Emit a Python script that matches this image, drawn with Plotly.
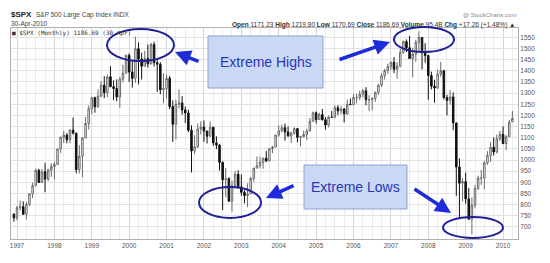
import plotly.graph_objects as go
import pandas as pd

# ---- data: S&P 500 monthly bars, Dec 1996 .. Apr 2010 ----
month_labels = pd.date_range("1996-12-01", "2010-04-01", freq="MS").strftime("%b %Y").tolist()

opens = [757.02,
 740.74, 786.16, 790.82, 757.12, 801.34, 848.28, 885.14, 954.31, 899.47, 947.28, 914.62, 955.40,
 970.43, 980.28, 1049.34, 1101.75, 1111.75, 1090.82, 1133.84, 1120.67, 957.28, 1017.01, 1098.67, 1163.63,
 1229.23, 1279.64, 1238.33, 1286.37, 1335.18, 1301.84, 1372.71, 1328.72, 1320.41, 1282.71, 1362.93, 1388.91,
 1469.25, 1394.46, 1366.42, 1498.58, 1452.43, 1420.60, 1454.60, 1430.83, 1517.68, 1436.51, 1429.40, 1314.95,
 1320.28, 1366.01, 1239.94, 1160.33, 1249.46, 1255.82, 1224.38, 1211.23, 1133.58, 1040.94, 1059.78, 1139.45,
 1148.08, 1130.20, 1106.73, 1147.39, 1076.92, 1067.14, 989.82, 911.62, 916.07, 815.28, 885.76, 936.31,
 879.82, 855.70, 841.15, 848.18, 916.92, 963.59, 974.50, 990.31, 1008.01, 995.97, 1050.71, 1058.20,
 1111.92, 1131.13, 1144.94, 1126.21, 1107.30, 1120.68, 1140.84, 1101.72, 1104.24, 1114.58, 1130.20, 1173.82,
 1211.92, 1181.27, 1203.60, 1180.59, 1156.85, 1191.50, 1191.33, 1234.18, 1220.33, 1228.81, 1207.01, 1249.48,
 1248.29, 1280.08, 1280.66, 1294.83, 1310.61, 1270.09, 1270.20, 1276.66, 1303.82, 1335.85, 1377.94, 1400.63,
 1418.30, 1438.24, 1406.82, 1420.86, 1482.37, 1530.62, 1503.35, 1455.27, 1473.99, 1526.75, 1549.38, 1481.14,
 1468.36, 1378.55, 1330.63, 1322.70, 1385.59, 1400.38, 1280.00, 1267.38, 1282.83, 1166.36, 968.75, 896.24,
 903.25, 825.88, 735.09, 797.87, 872.81, 919.14, 919.32, 987.48, 1020.62, 1057.08, 1036.19, 1095.63,
 1115.10, 1073.87, 1104.49, 1171.23]

highs = [761.75,
 794.67, 817.68, 814.90, 812.93, 851.87, 898.70, 961.04, 960.32, 960.46, 987.68, 961.26, 986.25,
 992.65, 1051.71, 1105.65, 1130.52, 1121.02, 1138.49, 1190.58, 1121.42, 1066.11, 1102.71, 1192.97, 1244.93,
 1280.37, 1283.74, 1316.55, 1352.98, 1375.98, 1383.66, 1420.33, 1357.74, 1361.35, 1373.17, 1427.02, 1473.11,
 1478.00, 1444.55, 1552.87, 1527.19, 1481.51, 1488.93, 1517.32, 1525.21, 1530.09, 1454.82, 1438.46, 1389.06,
 1383.37, 1376.38, 1267.42, 1269.30, 1315.93, 1286.62, 1239.78, 1226.27, 1155.40, 1110.61, 1163.38, 1173.62,
 1176.97, 1130.20, 1173.03, 1147.84, 1106.59, 1070.74, 993.56, 965.00, 924.02, 907.44, 951.57, 954.28,
 935.05, 864.64, 895.90, 924.24, 965.38, 1015.33, 1015.41, 1011.01, 1040.29, 1053.79, 1063.65, 1112.56,
 1155.38, 1158.98, 1163.23, 1150.57, 1127.74, 1146.34, 1140.84, 1108.60, 1131.54, 1140.35, 1188.46, 1217.33,
 1217.80, 1212.44, 1229.11, 1191.88, 1199.56, 1219.59, 1245.15, 1245.86, 1243.13, 1233.34, 1270.64, 1275.80,
 1294.90, 1297.57, 1310.88, 1318.16, 1326.70, 1290.68, 1280.42, 1306.74, 1340.28, 1389.45, 1407.89, 1431.81,
 1441.61, 1461.57, 1438.89, 1498.02, 1535.56, 1540.56, 1555.90, 1503.89, 1538.74, 1576.09, 1550.00, 1523.57,
 1471.77, 1396.02, 1359.68, 1404.57, 1440.24, 1404.05, 1292.17, 1313.15, 1303.04, 1167.03, 1007.51, 918.85,
 943.85, 875.01, 832.98, 888.70, 930.17, 956.23, 996.68, 1039.47, 1080.15, 1101.36, 1113.69, 1130.38,
 1150.45, 1112.42, 1180.16, 1219.80]

lows = [723.68,
 729.55, 773.43, 756.13, 733.54, 793.21, 829.75, 883.00, 898.56, 899.47, 855.27, 905.13, 924.92,
 912.83, 980.28, 1032.10, 1076.70, 1074.91, 1074.67, 1114.30, 939.98, 939.71, 923.32, 1098.67, 1136.89,
 1205.46, 1211.89, 1234.67, 1282.56, 1277.31, 1281.41, 1328.72, 1268.37, 1263.65, 1233.70, 1348.10, 1387.38,
 1350.14, 1325.07, 1346.62, 1339.40, 1361.09, 1420.60, 1413.89, 1428.56, 1419.44, 1305.79, 1294.90, 1254.07,
 1274.62, 1228.33, 1081.19, 1091.99, 1232.00, 1203.03, 1165.54, 1124.87, 944.75, 1026.76, 1054.31, 1114.53,
 1081.66, 1074.36, 1106.73, 1063.46, 1048.96, 952.92, 775.68, 833.44, 815.28, 768.63, 872.66, 871.85,
 840.34, 806.29, 788.90, 847.85, 902.83, 963.59, 962.10, 960.84, 990.36, 995.97, 1031.20, 1058.20,
 1105.08, 1124.44, 1087.16, 1105.42, 1076.32, 1113.32, 1078.78, 1060.72, 1101.24, 1090.19, 1127.60, 1173.76,
 1163.75, 1180.95, 1176.92, 1136.15, 1146.18, 1188.30, 1191.33, 1201.07, 1205.35, 1168.20, 1201.07, 1246.59,
 1245.74, 1253.61, 1268.42, 1280.74, 1245.34, 1219.29, 1224.54, 1261.30, 1290.93, 1327.10, 1360.98, 1385.93,
 1403.97, 1389.42, 1363.98, 1416.37, 1476.70, 1484.18, 1454.25, 1370.60, 1439.29, 1489.56, 1406.10, 1435.65,
 1270.05, 1316.75, 1256.98, 1320.00, 1373.07, 1272.00, 1200.44, 1248.48, 1133.50, 839.80, 741.02, 815.69,
 804.47, 734.52, 666.79, 783.32, 866.10, 888.86, 869.32, 978.51, 991.97, 1019.95, 1029.38, 1085.89,
 1071.59, 1044.50, 1104.49, 1170.69]

closes = [740.74,
 786.16, 790.82, 757.12, 801.34, 848.28, 885.14, 954.31, 899.47, 947.28, 914.62, 955.40, 970.43,
 980.28, 1049.34, 1101.75, 1111.75, 1090.82, 1133.84, 1120.67, 957.28, 1017.01, 1098.67, 1163.63, 1229.23,
 1279.64, 1238.33, 1286.37, 1335.18, 1301.84, 1372.71, 1328.72, 1320.41, 1282.71, 1362.93, 1388.91, 1469.25,
 1394.46, 1366.42, 1498.58, 1452.43, 1420.60, 1454.60, 1430.83, 1517.68, 1436.51, 1429.40, 1314.95, 1320.28,
 1366.01, 1239.94, 1160.33, 1249.46, 1255.82, 1224.38, 1211.23, 1133.58, 1040.94, 1059.78, 1139.45, 1148.08,
 1130.20, 1106.73, 1147.39, 1076.92, 1067.14, 989.82, 911.62, 916.07, 815.28, 885.76, 936.31, 879.82,
 855.70, 841.15, 848.18, 916.92, 963.59, 974.50, 990.31, 1008.01, 995.97, 1050.71, 1058.20, 1111.92,
 1131.13, 1144.94, 1126.21, 1107.30, 1120.68, 1140.84, 1101.72, 1104.24, 1114.58, 1130.20, 1173.82, 1211.92,
 1181.27, 1203.60, 1180.59, 1156.85, 1191.50, 1191.33, 1234.18, 1220.33, 1228.81, 1207.01, 1249.48, 1248.29,
 1280.08, 1280.66, 1294.83, 1310.61, 1270.09, 1270.20, 1276.66, 1303.82, 1335.85, 1377.94, 1400.63, 1418.30,
 1438.24, 1406.82, 1420.86, 1482.37, 1530.62, 1503.35, 1455.27, 1473.99, 1526.75, 1549.38, 1481.14, 1468.36,
 1378.55, 1330.63, 1322.70, 1385.59, 1400.38, 1280.00, 1267.38, 1282.83, 1166.36, 968.75, 896.24, 903.25,
 825.88, 735.09, 797.87, 872.81, 919.14, 919.32, 987.48, 1020.62, 1057.08, 1036.19, 1095.63, 1115.10,
 1073.87, 1104.49, 1169.43, 1186.69]

year_labels = [str(y) for y in range(1997, 2011)]
price_ticks = list(range(700, 1551, 50))

# month index: 0 = Jan 1997
xidx = [i - 1 for i in range(len(month_labels))]

# ---- geometry helpers (pixel -> paper) ----
W, H = 550, 263
L, R, T, B = 11, 32, 28, 24
PW, PH = W - L - R, H - T - B


def px(x):
    return (x - L) / PW


def py(y):
    return (H - B - y) / PH


FONT = "Liberation Sans, Arial, sans-serif"

fig = go.Figure()
fig.add_trace(go.Candlestick(
    x=xidx, open=opens, high=highs, low=lows, close=closes,
    text=month_labels,
    increasing=dict(line=dict(color="#6a6a6a", width=1), fillcolor="white"),
    decreasing=dict(line=dict(color="#111111", width=1), fillcolor="#111111"),
    whiskerwidth=0,
    showlegend=False,
))

shapes = []
annos = []

# ellipses
ell_col = "#1f1f9a"
for (x0, x1, y0, y1) in [(107, 174, 29, 61), (394, 454, 27, 52),
                         (199, 261, 187, 218), (443, 503, 217, 238)]:
    shapes.append(dict(type="circle", xref="paper", yref="paper",
                       x0=px(x0), x1=px(x1), y0=py(y1), y1=py(y0),
                       line=dict(color=ell_col, width=2), layer="above"))

# boxes with text
box_fill = "#c9d8f3"
box_line = "#8fa2d6"
for (x0, x1, y0, y1, txt) in [(208, 323, 36, 88, "Extreme Highs"),
                              (304, 407, 165, 209, "Extreme Lows")]:
    shapes.append(dict(type="rect", xref="paper", yref="paper",
                       x0=px(x0), x1=px(x1), y0=py(y1), y1=py(y0),
                       fillcolor=box_fill, line=dict(color=box_line, width=1), layer="above"))
    annos.append(dict(xref="paper", yref="paper", x=px((x0 + x1) / 2), y=py((y0 + y1) / 2),
                      text=txt, showarrow=False, xanchor="center", yanchor="middle",
                      font=dict(family=FONT, size=14, color="#2b36b8")))

# arrows (head x, head y, tail x, tail y)
arr_col = "#1e2bd8"
for (hx, hy, tx, ty) in [(175, 52, 200, 62), (390, 42, 338, 60),
                         (266, 198, 295, 185), (451, 213, 413, 188)]:
    annos.append(dict(xref="paper", yref="paper", x=px(hx), y=py(hy),
                      ax=tx - hx, ay=ty - hy, text="", showarrow=True,
                      arrowhead=2, arrowsize=0.9, arrowwidth=3.5, arrowcolor=arr_col))

# header texts
annos += [
    dict(xref="paper", yref="paper", x=px(10), y=py(14.5), xanchor="left", yanchor="middle",
         showarrow=False, borderpad=0, text="<b>$SPX</b>", font=dict(family=FONT, size=8, color="#222")),
    dict(xref="paper", yref="paper", x=px(35), y=py(14.5), xanchor="left", yanchor="middle",
         showarrow=False, borderpad=0, text="S&amp;P 500 Large Cap Index INDX",
         font=dict(family=FONT, size=6.5, color="#444")),
    dict(xref="paper", yref="paper", x=px(10), y=py(24), xanchor="left", yanchor="middle",
         showarrow=False, borderpad=0, text="30-Apr-2010", font=dict(family=FONT, size=6.5, color="#444")),
    dict(xref="paper", yref="paper", x=px(517), y=py(14.5), xanchor="right", yanchor="middle",
         showarrow=False, borderpad=0, text="@ StockCharts.com", font=dict(family=FONT, size=6, color="#888")),
    dict(xref="paper", yref="paper", x=px(517), y=py(24.5), xanchor="right", yanchor="middle",
         showarrow=False, borderpad=0,
         text="<b>Open</b> 1171.23 <b>High</b> 1219.80 <b>Low</b> 1170.69 <b>Close</b> 1186.69 "
              "<b>Volume</b> 95.4B <b>Chg</b> +17.26 (+1.48%) ▲",
         font=dict(family=FONT, size=6.5, color="#333")),
    dict(xref="paper", yref="paper", x=px(11), y=py(32.5), xanchor="left", yanchor="middle",
         showarrow=False, borderpad=0, text="■ $SPX (Monthly) 1186.69 (30 Apr)",
         font=dict(family="DejaVu Sans Mono, monospace", size=6, color="#333")),
]

fig.update_layout(
    width=W, height=H,
    margin=dict(l=L, r=R, t=T, b=B),
    paper_bgcolor="white", plot_bgcolor="white",
    shapes=shapes, annotations=annos,
    xaxis=dict(
        range=[-1.93, 160.8],
        tickvals=[12 * k for k in range(len(year_labels))], ticktext=year_labels,
        showgrid=True, gridcolor="#d6d6d6", gridwidth=1,
        minor=dict(tickvals=[3 * k for k in range(-1, 54)], showgrid=True, gridcolor="#ececec"),
        showline=True, linecolor="#b0b0b0", mirror=True, ticks="",
        tickfont=dict(family=FONT, size=6.5, color="#555"),
        rangeslider=dict(visible=False), zeroline=False, fixedrange=True,
    ),
    yaxis=dict(
        side="right", range=[646.2, 1591.7],
        tickvals=price_ticks, ticktext=[str(v) for v in price_ticks],
        showgrid=True, gridcolor="#e2e2e2",
        showline=True, linecolor="#b0b0b0", mirror=True, ticks="",
        tickfont=dict(family=FONT, size=6.5, color="#555"),
        zeroline=False, fixedrange=True,
    ),
)

fig.write_html("out.html")
